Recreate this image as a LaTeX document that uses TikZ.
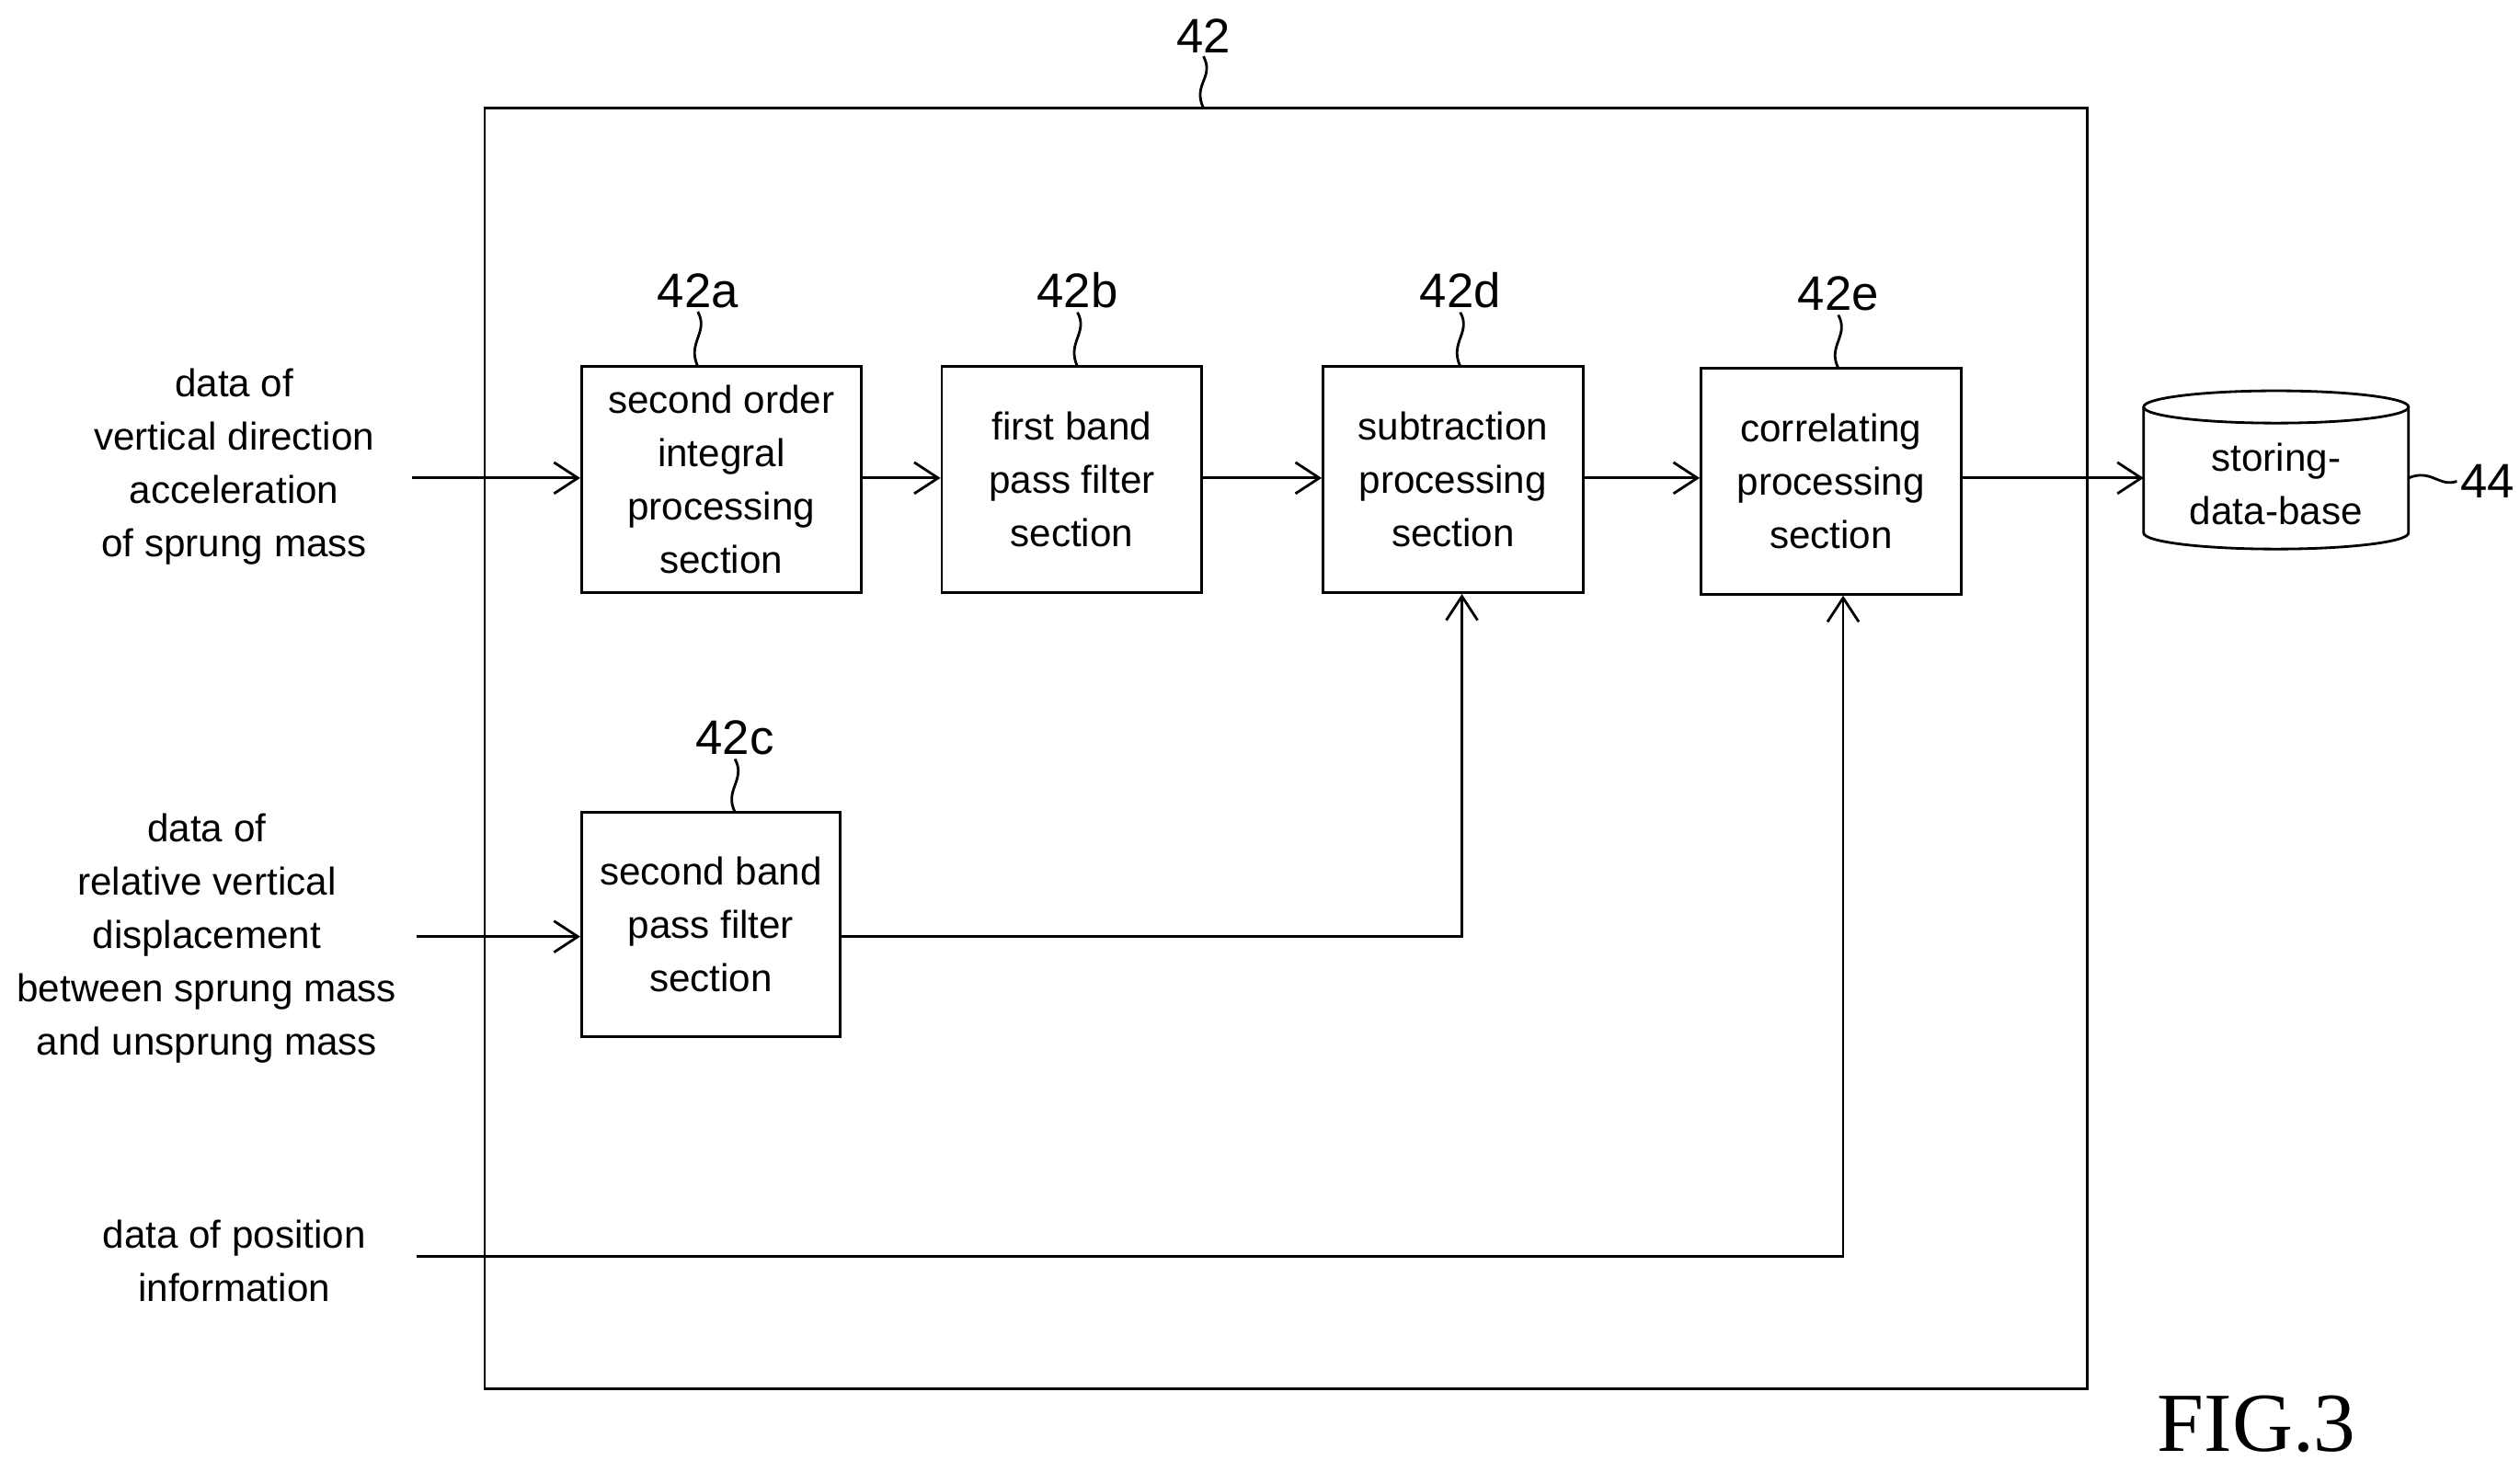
\documentclass[tikz,border=0pt]{standalone}
\usepackage{fontspec}
\setmainfont{Liberation Sans}
\newfontfamily\figfont{Liberation Serif}
\usetikzlibrary{arrows.meta}
\tikzset{
  blk/.style={draw, thick, align=center, inner sep=0pt},
  txt/.style={align=center, inner sep=0pt},
  ref/.style={inner sep=1pt, font=\fontsize{15}{18}\selectfont},
  flow/.style={thick, -{Straight Barb[length=2.6mm, width=3.4mm]}},
  tilde/.style={thick}
}
\begin{document}
\begin{tikzpicture}[x=0.017564cm, y=-0.017564cm, font=\fontsize{12}{16.5}\selectfont]
\useasboundingbox (0,0) rectangle (1560,911.5);
% outer unit
\draw[thick] (300,67) rectangle (1292,860);
\node[ref] (l42) at (745,22) {42};
\draw[tilde] (l42.south) .. controls (752,48) and (738,52) .. (745,67);

% blocks
\node[blk, minimum width=173*0.017564cm, minimum height=140*0.017564cm] (a) at (446.5,297) {second order\\integral\\processing\\section};
\node[blk, minimum width=161*0.017564cm, minimum height=140*0.017564cm] (b) at (663.5,297) {first band\\pass filter\\section};
\node[blk, minimum width=161*0.017564cm, minimum height=140*0.017564cm] (d) at (899.5,297) {subtraction\\processing\\section};
\node[blk, minimum width=161*0.017564cm, minimum height=140*0.017564cm] (e) at (1133.5,298) {correlating\\processing\\section};
\node[blk, minimum width=160*0.017564cm, minimum height=139*0.017564cm] (c) at (440,572.5) {second band\\pass filter\\section};

% reference labels
\node[ref] (la) at (432,180) {42a};
\node[ref] (lb) at (667,180) {42b};
\node[ref] (ld) at (904,180) {42d};
\node[ref] (le) at (1138,182) {42e};
\node[ref] (lc) at (455,457) {42c};
\draw[tilde] (la.south) .. controls (439,206) and (425,212) .. (432,227);
\draw[tilde] (lb.south) .. controls (674,206) and (660,212) .. (667,227);
\draw[tilde] (ld.south) .. controls (911,206) and (897,212) .. (904,227);
\draw[tilde] (le.south) .. controls (1145,208) and (1131,214) .. (1138,228);
\draw[tilde] (lc.south) .. controls (462,483) and (448,489) .. (455,503);

% database
\node[txt] (db) at (1409,300) {storing-\\data-base};
\draw[thick] (1327,252) -- (1327,330) arc[x radius=82, y radius=10, start angle=180, end angle=0] -- (1491,252);
\draw[thick] (1409,252) ellipse[x radius=82, y radius=10];
\node[ref] (l44) at (1540,298) {44};
\draw[tilde] (1491,296) .. controls (1505,290) and (1510,302) .. (l44.west);

% inputs
\node[txt] (in1) at (145,289) {data of\\vertical direction\\acceleration\\of sprung mass};
\node[txt] (in2) at (128,581) {data of\\relative vertical\\displacement\\between sprung mass\\and unsprung mass};
\node[txt] (in3) at (145,781) {data of position\\information};
\coordinate (s1) at (255,296);
\coordinate (s2) at (258,580);
\coordinate (s3) at (258,778);
\coordinate (dbin) at (1327,296);

% connectors
\draw[flow] (s1) -- (a.west |- s1);
\draw[flow] (a.east |- s1) -- (b.west |- s1);
\draw[flow] (b.east |- s1) -- (d.west |- s1);
\draw[flow] (d.east |- s1) -- (e.west |- s1);
\draw[flow] (e.east |- s1) -- (dbin);
\draw[flow] (s2) -- (c.west |- s2);
\draw[flow] (c.east |- s2) -| ([xshift=5.5*0.017564cm]d.south);
\draw[flow] (s3) -| ([xshift=7.5*0.017564cm]e.south);

\node[inner sep=0pt, font=\figfont\fontsize{26}{26}\selectfont] (fig) at (1397,882) {FIG.3};
\end{tikzpicture}
\end{document}
